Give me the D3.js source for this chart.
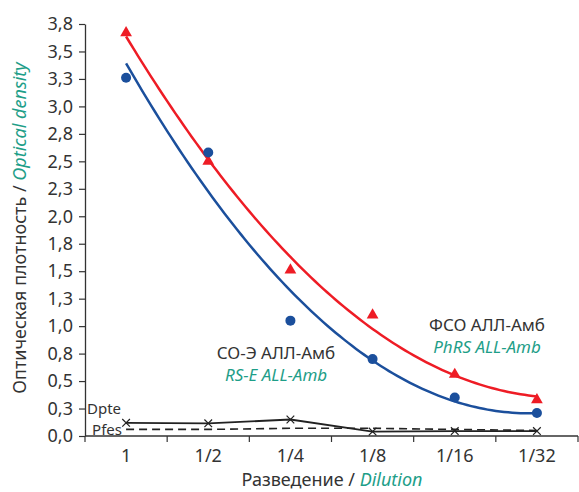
<!DOCTYPE html>
<html>
<head>
<meta charset="utf-8">
<script src="https://cdn.jsdelivr.net/npm/d3@7"></script>
<style>
  body { margin: 0; background: #fff; }
  text { font-family: "Noto Sans", sans-serif; }
</style>
</head>
<body>
<div id="chart"></div>
<script>
// data
const dilutions = ["1", "1/2", "1/4", "1/8", "1/16", "1/32"];
const phrs = [3.67, 2.50, 1.51, 1.10, 0.56, 0.33];     // ФСО АЛЛ-Амб, red triangles
const rse = [3.26, 2.58, 1.05, 0.70, 0.35, 0.21];      // СО-Э АЛЛ-Амб, blue circles
const dpte = [0.12, 0.115, 0.15, 0.04, 0.045, 0.045];  // solid line with crosses
const pfes = [0.06, 0.06, 0.07, 0.07, 0.06, 0.05];     // dashed line
const yTicks = [0, 0.25, 0.5, 0.75, 1, 1.25, 1.5, 1.75, 2, 2.25, 2.5, 2.75, 3, 3.25, 3.5, 3.75];

const width = 579, height = 492;
const margin = {top: 24, right: 1, bottom: 56, left: 85};

const teal = "#1e9e88";
const red = "#ee1c25";
const blue = "#1b4f9c";
const ink = "#333";

let svg = d3.select("#chart")
    .append("svg")
        .attr("width", width)
        .attr("height", height);

let x = d3.scaleBand()
    .domain(dilutions)
    .range([margin.left, width - margin.right]);

let y = d3.scaleLinear()
    .domain([0, 3.75])
    .range([height - margin.bottom, margin.top]);

let cx = (d, i) => x(dilutions[i]) + x.bandwidth() / 2;

// y axis
let yAxis = svg.append("g")
    .attr("transform", `translate(${margin.left},0)`)
    .call(d3.axisLeft(y).tickValues(yTicks).tickSize(6).tickSizeOuter(0)
        .tickFormat(d => d3.format(".1f")(Math.round(d * 10 + 1e-9) / 10).replace(".", ",")));
yAxis.select(".domain").attr("stroke", ink).attr("stroke-width", 1.3);
yAxis.selectAll(".tick line").attr("stroke", ink).attr("stroke-width", 1.2);
yAxis.selectAll(".tick text").attr("fill", ink).style("font-size", "18px").attr("x", -12);

// x axis: ticks sit on the band edges
let xAxis = svg.append("g")
    .attr("transform", `translate(0,${height - margin.bottom})`);
xAxis.append("line")
    .attr("x1", margin.left).attr("x2", width - margin.right)
    .attr("stroke", ink).attr("stroke-width", 1.3);
let edges = dilutions.map(d => x(d)).concat([x.range()[1]]);
xAxis.selectAll(".edge").data(edges).enter().append("line")
    .attr("x1", d => d).attr("x2", d => d)
    .attr("y1", 0).attr("y2", 6)
    .attr("stroke", ink).attr("stroke-width", 1.2);
xAxis.selectAll(".lab").data(dilutions).enter().append("text")
    .attr("x", d => x(d) + x.bandwidth() / 2)
    .attr("y", 26)
    .attr("text-anchor", "middle")
    .attr("fill", ink)
    .style("font-size", "18px")
    .text(d => d);

// axis titles
let xt = svg.append("text")
    .attr("x", 332).attr("y", 486)
    .attr("text-anchor", "middle")
    .attr("fill", ink)
    .style("font-size", "18px");
xt.append("tspan").text("Разведение / ");
xt.append("tspan").attr("fill", teal).style("font-style", "italic").text("Dilution");

let yt = svg.append("text")
    .attr("transform", "translate(26,228) rotate(-90)")
    .attr("text-anchor", "middle")
    .attr("fill", ink)
    .style("font-size", "18px");
yt.append("tspan").text("Оптическая плотность / ");
yt.append("tspan").attr("fill", teal).style("font-style", "italic").text("Optical density");

// quadratic trend line through a series
function quadFit(vals) {
    let n = vals.length;
    let xs = vals.map((v, i) => i + 1);
    let m = d3.mean(xs);
    let t = xs.map(v => v - m);
    let s2 = d3.sum(t, v => v * v), s4 = d3.sum(t, v => v ** 4);
    let sy = d3.sum(vals), sty = d3.sum(vals, (v, i) => t[i] * v), st2y = d3.sum(vals, (v, i) => t[i] * t[i] * v);
    let b = sty / s2;
    let c = (st2y - s2 * sy / n) / (s4 - s2 * s2 / n);
    let a = (sy - c * s2) / n;
    return xv => a + b * (xv - m) + c * (xv - m) * (xv - m);
}

function trend(vals, color) {
    let f = quadFit(vals);
    let pts = d3.range(1, 6.001, 0.05).map(v => [x(dilutions[0]) + x.bandwidth() / 2 + (v - 1) * x.step(), y(f(v))]);
    svg.append("path")
        .attr("d", d3.line()(pts))
        .attr("fill", "none")
        .attr("stroke", color)
        .attr("stroke-width", 2.5);
}

trend(phrs, red);
trend(rse, blue);

svg.selectAll(".tri").data(phrs).enter().append("path")
    .attr("d", d3.symbol(d3.symbolTriangle, 60))
    .attr("transform", (d, i) => `translate(${cx(d, i)},${y(d)})`)
    .attr("fill", red);

svg.selectAll(".dot").data(rse).enter().append("circle")
    .attr("cx", cx)
    .attr("cy", d => y(d))
    .attr("r", 5)
    .attr("fill", blue);

// low controls
svg.append("path")
    .attr("d", d3.line().x((d, i) => cx(d, i)).y(d => y(d))(pfes))
    .attr("fill", "none")
    .attr("stroke", "#222")
    .attr("stroke-width", 1.6)
    .attr("stroke-dasharray", "8,5");

svg.append("path")
    .attr("d", d3.line().x((d, i) => cx(d, i)).y(d => y(d))(dpte))
    .attr("fill", "none")
    .attr("stroke", "#222")
    .attr("stroke-width", 1.8);

svg.selectAll(".cross").data(dpte).enter().append("path")
    .attr("d", d3.symbol(d3.symbolX, 40))
    .attr("transform", (d, i) => `translate(${cx(d, i)},${y(d)})`)
    .attr("fill", "none")
    .attr("stroke", "#222")
    .attr("stroke-width", 1.2);

svg.append("text").attr("x", 87).attr("y", 414)
    .attr("fill", ink).style("font-size", "15px").text("Dpte");
svg.append("text").attr("x", 122).attr("y", 435)
    .attr("text-anchor", "end")
    .attr("fill", ink).style("font-size", "15px").text("Pfes");

// series labels
function label(xp, yp, ru, en) {
    svg.append("text").attr("x", xp).attr("y", yp)
        .attr("text-anchor", "middle").attr("fill", ink)
        .style("font-size", "17px").text(ru);
    svg.append("text").attr("x", xp).attr("y", yp + 22)
        .attr("text-anchor", "middle").attr("fill", teal)
        .style("font-size", "17px").style("font-style", "italic").text(en);
}
label(487, 331, "ФСО АЛЛ-Амб", "PhRS ALL-Amb");
label(276, 359, "СО-Э АЛЛ-Амб", "RS-E ALL-Amb");
</script>
</body>
</html>
